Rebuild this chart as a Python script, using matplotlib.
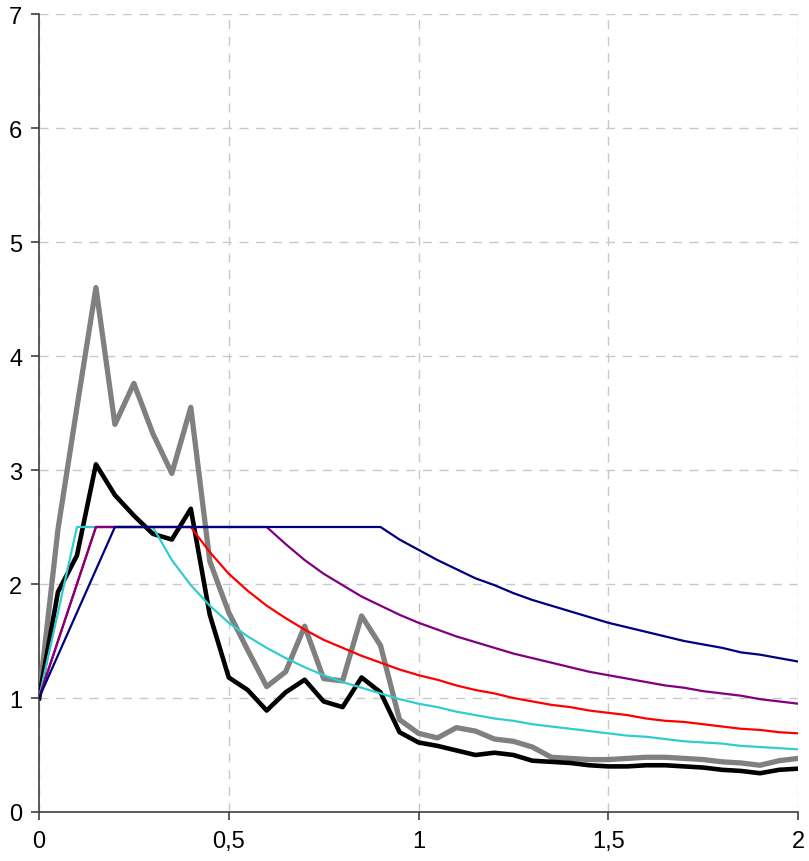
import matplotlib
matplotlib.use("Agg")
import matplotlib.pyplot as plt
from matplotlib.ticker import FuncFormatter

# periods, 0 to 2 in steps of 0.05
periods = [round(i * 0.05, 2) for i in range(41)]

grey_vals = [1.00, 2.48, 3.55, 4.60, 3.40, 3.76, 3.32, 2.97, 3.55, 2.20,
             1.75, 1.42, 1.10, 1.23, 1.63, 1.17, 1.15, 1.72, 1.46, 0.81,
             0.69, 0.65, 0.74, 0.71, 0.64, 0.62, 0.57, 0.48, 0.47, 0.46,
             0.46, 0.47, 0.48, 0.48, 0.47, 0.46, 0.44, 0.43, 0.41, 0.45,
             0.47]
black_vals = [1.00, 1.93, 2.25, 3.05, 2.78, 2.60, 2.44, 2.39, 2.66, 1.73,
              1.18, 1.07, 0.89, 1.05, 1.16, 0.97, 0.92, 1.18, 1.05, 0.70,
              0.61, 0.58, 0.54, 0.50, 0.52, 0.50, 0.45, 0.44, 0.43, 0.41,
              0.40, 0.40, 0.41, 0.41, 0.40, 0.39, 0.37, 0.36, 0.34, 0.37,
              0.38]

# design spectra
cyan_vals = [1.00, 1.75, 2.50, 2.50, 2.50, 2.50, 2.50, 2.21, 1.99, 1.81,
             1.66, 1.54, 1.44, 1.35, 1.27, 1.20, 1.14, 1.09, 1.04, 0.99,
             0.95, 0.92, 0.88, 0.85, 0.82, 0.80, 0.77, 0.75, 0.73, 0.71,
             0.69, 0.67, 0.66, 0.64, 0.62, 0.61, 0.60, 0.58, 0.57, 0.56,
             0.55]
red_vals = [1.00, 1.50, 2.00, 2.50, 2.50, 2.50, 2.50, 2.50, 2.50, 2.28,
            2.09, 1.94, 1.81, 1.70, 1.60, 1.51, 1.44, 1.37, 1.31, 1.25,
            1.20, 1.16, 1.11, 1.07, 1.04, 1.00, 0.97, 0.94, 0.92, 0.89,
            0.87, 0.85, 0.82, 0.80, 0.79, 0.77, 0.75, 0.73, 0.72, 0.70,
            0.69]
purple_vals = [1.00, 1.50, 2.00, 2.50, 2.50, 2.50, 2.50, 2.50, 2.50, 2.50,
               2.50, 2.50, 2.50, 2.35, 2.21, 2.09, 1.99, 1.89, 1.81, 1.73,
               1.66, 1.60, 1.54, 1.49, 1.44, 1.39, 1.35, 1.31, 1.27, 1.23,
               1.20, 1.17, 1.14, 1.11, 1.09, 1.06, 1.04, 1.02, 0.99, 0.97,
               0.95]
navy_vals = [1.00, 1.375, 1.75, 2.125, 2.50, 2.50, 2.50, 2.50, 2.50, 2.50,
             2.50, 2.50, 2.50, 2.50, 2.50, 2.50, 2.50, 2.50, 2.50, 2.39,
             2.30, 2.21, 2.13, 2.05, 1.99, 1.92, 1.86, 1.81, 1.76, 1.71,
             1.66, 1.62, 1.58, 1.54, 1.50, 1.47, 1.44, 1.40, 1.38, 1.35,
             1.32]

x_ticks = [0, 0.5, 1, 1.5, 2]
y_ticks = [0, 1, 2, 3, 4, 5, 6, 7]

plt.rcParams["font.family"] = ["Liberation Sans", "DejaVu Sans"]

fig = plt.figure(figsize=(8.09, 8.62), dpi=100)
ax = fig.add_axes([39 / 809, 1 - 813 / 862, 759 / 809, 798 / 862])

ax.plot(periods, grey_vals, color="#808080", linewidth=3.8, zorder=2)
ax.plot(periods, black_vals, color="black", linewidth=3.3, zorder=3)
ax.plot(periods, cyan_vals, color="#33CCCC", linewidth=1.6, zorder=4)
ax.plot(periods, red_vals, color="#FF0000", linewidth=1.6, zorder=5)
ax.plot(periods, purple_vals, color="#800080", linewidth=1.6, zorder=6)
ax.plot(periods, navy_vals, color="#000080", linewidth=1.6, zorder=7)

ax.set_xlim(0, 2)
ax.set_ylim(0, 7)
ax.set_xticks(x_ticks)
ax.set_yticks(y_ticks)
ax.xaxis.set_major_formatter(FuncFormatter(lambda v, p: f"{v:g}".replace(".", ",")))
ax.grid(True, color="#c8c8c8", linestyle=(0, (6.5, 5.5)), linewidth=1.0, zorder=0)
ax.set_axisbelow(True)

for side in ["top", "right"]:
    ax.spines[side].set_visible(False)
for side in ["left", "bottom"]:
    ax.spines[side].set_color("#404040")
    ax.spines[side].set_linewidth(1.2)
    ax.spines[side].set_zorder(1)

ax.tick_params(axis="both", direction="out", length=6, width=1.2,
               color="#404040", labelsize=17)
ax.tick_params(axis="y", pad=6)
ax.tick_params(axis="x", pad=7)

fig.savefig("out.png", dpi=100)
